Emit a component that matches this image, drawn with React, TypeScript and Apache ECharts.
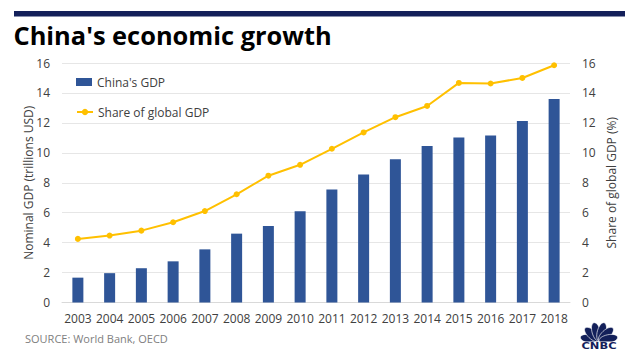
import React, { useEffect, useRef } from "react";
import * as echarts from "echarts";

const years = ["2003","2004","2005","2006","2007","2008","2009","2010","2011","2012","2013","2014","2015","2016","2017","2018"];
const gdpTrillions = [1.66, 1.96, 2.29, 2.75, 3.55, 4.6, 5.11, 6.09, 7.55, 8.55, 9.57, 10.46, 11.02, 11.15, 12.13, 13.6];
const sharePct = [4.25, 4.47, 4.8, 5.36, 6.11, 7.23, 8.47, 9.2, 10.27, 11.36, 12.38, 13.13, 14.67, 14.63, 15.0, 15.85];
const axisTicks = { min: 0, max: 16, interval: 2 };

const FONT = "'Open Sans', 'Noto Sans', sans-serif";
const NAVY = "#13205a";

export default function App() {
  const ref = useRef<HTMLDivElement>(null);
  useEffect(() => {
    if (!ref.current) return;
    const chart = echarts.init(ref.current, undefined, { renderer: "svg" });
    const feathers: any[] = [];
    const cx = 599, cy = 341;
    const angles = [-78, -47, -16, 16, 47, 78];
    angles.forEach((a) => {
      const rad = (a * Math.PI) / 180;
      feathers.push({
        type: "ellipse",
        shape: { cx: 0, cy: 0, rx: 4.3, ry: 9.5 },
        x: cx + Math.sin(rad) * 9.5,
        y: cy - Math.cos(rad) * 9.5,
        rotation: -rad,
        style: { fill: NAVY, stroke: "#fff", lineWidth: 0.6 },
      });
    });
    chart.setOption({
      animation: false,
      backgroundColor: "#ffffff",
      textStyle: { fontFamily: FONT },
      graphic: [
        { type: "rect", shape: { x: 14, y: 11, width: 611, height: 5.5 }, style: { fill: NAVY } },
        {
          type: "text",
          x: 13.5,
          y: 35,
          style: { text: "China's economic growth", font: `bold 25.4px ${FONT}`, fill: "#000", verticalAlign: "middle" },
        },
        {
          type: "text",
          x: 25,
          y: 338.5,
          style: { text: "SOURCE: World Bank, OECD", font: `11px ${FONT}`, fill: "#808080", verticalAlign: "middle" },
        },
        ...feathers,
        { type: "rect", shape: { x: 580, y: 341.5, width: 38, height: 9 }, style: { fill: "#fff" } },
        {
          type: "text",
          x: 599,
          y: 346,
          scaleX: 1.35,
          originX: 0,
          originY: 0,
          style: { text: "CNBC", font: `bold 8.5px 'DejaVu Sans', sans-serif`, fill: NAVY, align: "center", verticalAlign: "middle" },
        },
      ],
      grid: { left: 62, right: 49, top: 63, bottom: 56.5, containLabel: false },
      legend: [
        {
          data: [{ name: "China's GDP", icon: "rect" }],
          left: 71,
          top: 71,
          itemWidth: 16,
          itemHeight: 8,
          textStyle: { fontSize: 12, color: "#404040", fontFamily: FONT },
        },
        {
          data: ["Share of global GDP"],
          left: 71,
          top: 101,
          itemWidth: 16,
          itemHeight: 8,
          textStyle: { fontSize: 12, color: "#404040", fontFamily: FONT },
        },
      ],
      xAxis: {
        type: "category",
        data: years,
        boundaryGap: true,
        axisLine: { lineStyle: { color: "#d9d9d9" } },
        axisTick: { show: false },
        axisLabel: { fontSize: 12, color: "#404040", margin: 10, fontFamily: FONT, interval: 0 },
      },
      yAxis: [
        {
          type: "value",
          ...axisTicks,
          position: "left",
          name: "Nominal GDP (trillions USD)",
          nameLocation: "middle",
          nameGap: 28,
          nameMoveOverlap: false,
          nameTextStyle: { fontSize: 12, color: "#404040", fontFamily: FONT },
          axisLine: { show: false },
          axisTick: { show: false },
          splitLine: { lineStyle: { color: "#e6e6e6" } },
          axisLabel: { fontSize: 12, color: "#404040", margin: 12, fontFamily: FONT },
        },
        {
          type: "value",
          ...axisTicks,
          position: "right",
          name: "Share of global GDP (%)",
          nameLocation: "middle",
          nameGap: 35,
          nameMoveOverlap: false,
          nameTextStyle: { fontSize: 12, color: "#404040", fontFamily: FONT },
          axisLine: { show: false },
          axisTick: { show: false },
          splitLine: { show: false },
          axisLabel: { fontSize: 12, color: "#404040", margin: 12, fontFamily: FONT },
        },
      ],
      series: [
        {
          name: "China's GDP",
          type: "bar",
          yAxisIndex: 0,
          data: gdpTrillions,
          barWidth: 11,
          itemStyle: { color: "#2f5597" },
        },
        {
          name: "Share of global GDP",
          type: "line",
          yAxisIndex: 1,
          data: sharePct,
          symbol: "circle",
          symbolSize: 6,
          lineStyle: { color: "#ffc000", width: 2 },
          itemStyle: { color: "#ffc000" },
        },
      ],
    });
    return () => chart.dispose();
  }, []);
  return <div ref={ref} style={{ position: "absolute", left: 0, top: 0, width: 625, height: 359 }} />;
}
